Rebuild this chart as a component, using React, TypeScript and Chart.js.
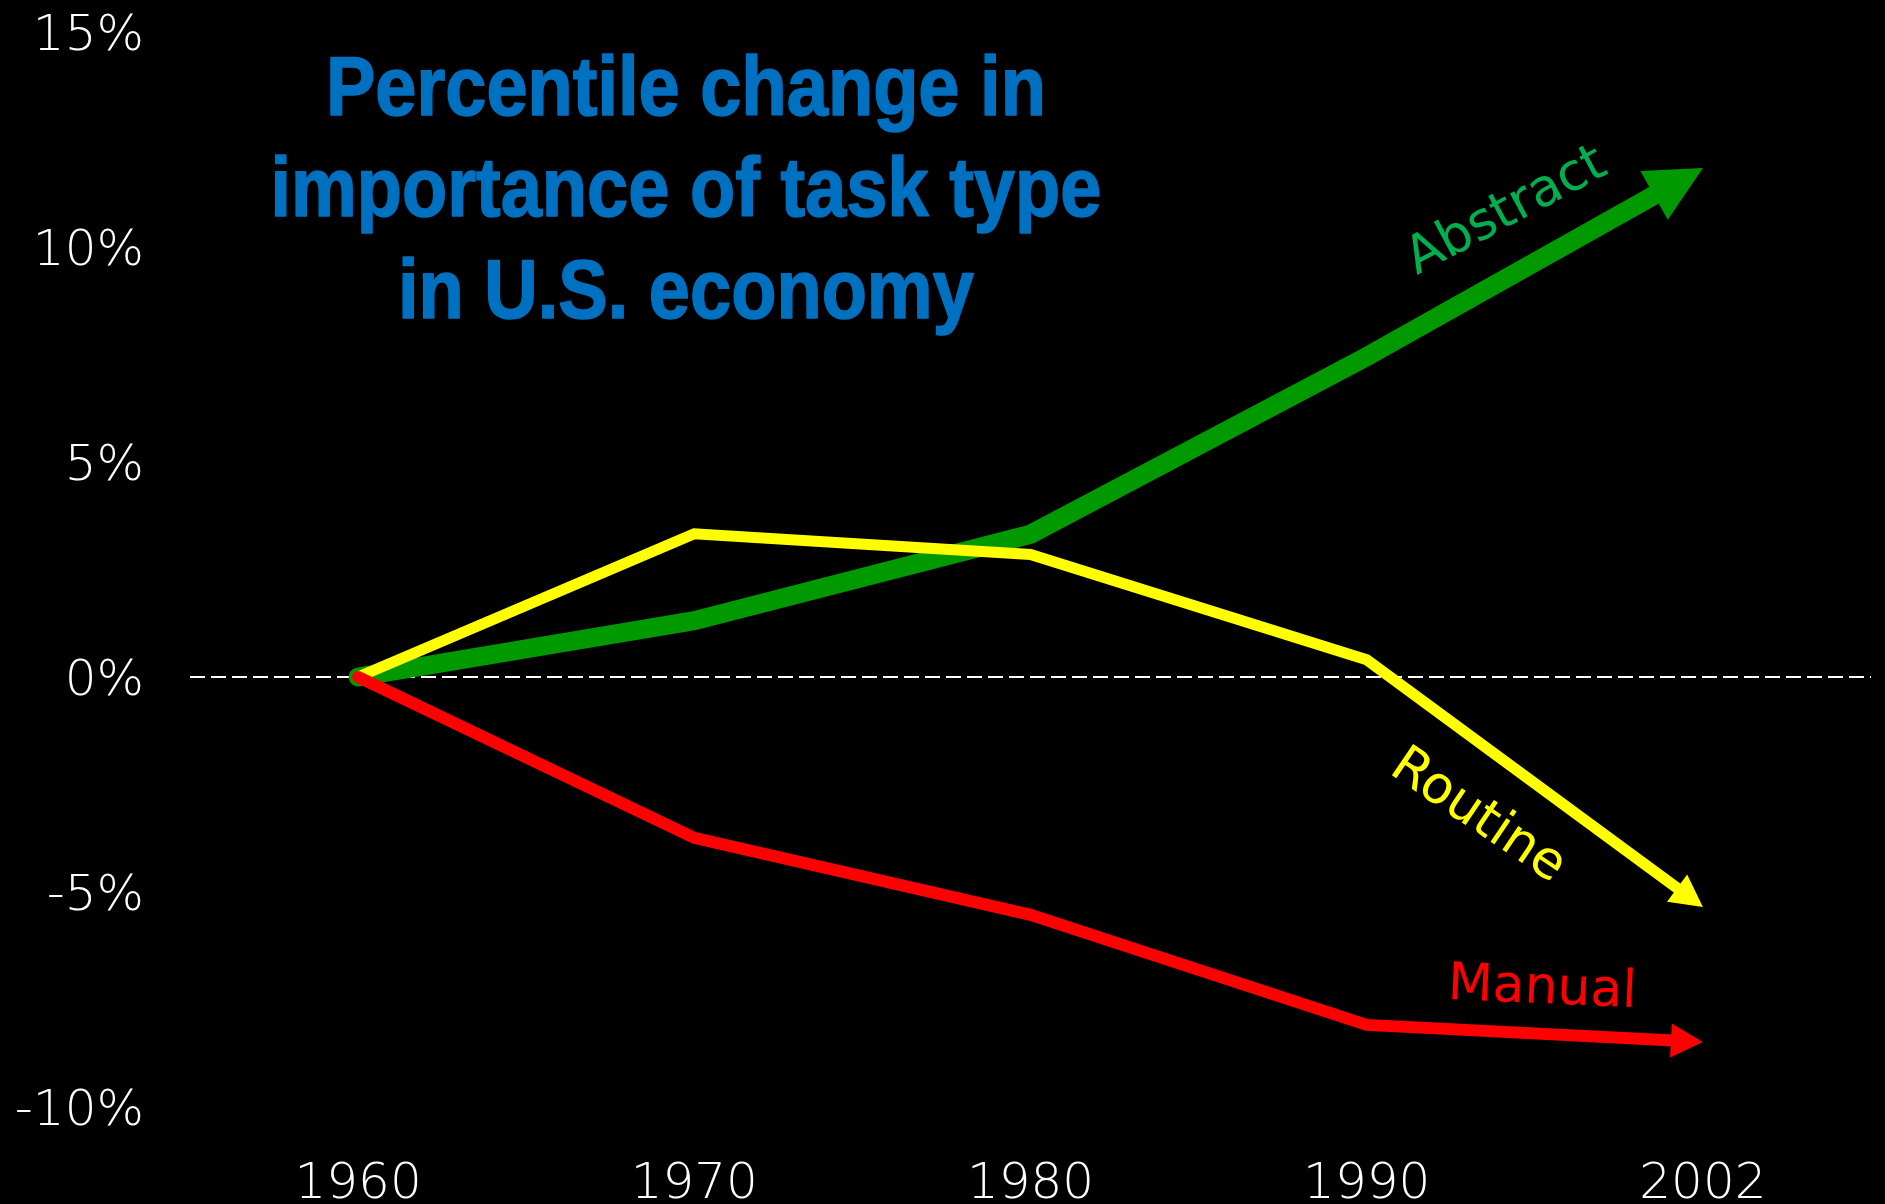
import { useEffect, useRef } from "react";
import { Chart, registerables } from "chart.js";

Chart.register(...registerables);

// ---- data ----
const YEARS = ["1960", "1970", "1980", "1990", "2002"];
const ABSTRACT = [0, 1.31, 3.32, 7.45, 11.84];
const ROUTINE = [0, 3.33, 2.85, 0.4, -5.35];
const MANUAL = [0, -3.74, -5.53, -8.09, -8.49];
const Y_MIN = -10;
const Y_MAX = 15;
const Y_STEP = 5;
const TITLE_LINES = ["Percentile change in", "importance of task type", "in U.S. economy"];

// ---- styles ----
const W = 1885;
const H = 1204;
const TICK_FONT = { family: '"DejaVu Sans", Verdana, sans-serif', size: 50, weight: "200" as any };

const ARROWS: Record<string, { len: number; half: number; color: string }> = {
  Abstract: { len: 56, half: 28, color: "#009900" },
  Routine: { len: 32, half: 17, color: "#ffff00" },
  Manual: { len: 32, half: 17, color: "#ff0000" },
};

// label anchors in (category index, value) space
const LABELS = [
  { text: "Abstract", idx: 3.417, val: 10.81, rot: -28, color: "#00b050", size: 52 },
  { text: "Routine", idx: 3.33, val: -3.25, rot: 34, color: "#ffff00", size: 52 },
  { text: "Manual", idx: 3.522, val: -7.27, rot: 2.5, color: "#ff0000", size: 52 },
];

const bgPlugin = {
  id: "bg",
  beforeDraw(chart: any) {
    const ctx = chart.ctx;
    ctx.save();
    ctx.fillStyle = "#000";
    ctx.fillRect(0, 0, chart.width, chart.height);
    ctx.restore();
  },
};

const zeroLinePlugin = {
  id: "zeroLine",
  beforeDatasetsDraw(chart: any) {
    const { ctx, chartArea, scales } = chart;
    const y = scales.y.getPixelForValue(0);
    ctx.save();
    ctx.strokeStyle = "#ffffff";
    ctx.lineWidth = 2;
    ctx.setLineDash([15, 6]);
    ctx.beginPath();
    ctx.moveTo(chartArea.left, y);
    ctx.lineTo(chartArea.right, y);
    ctx.stroke();
    ctx.restore();
  },
};

function headGeom(meta: any, spec: { len: number; half: number }) {
  const pts = meta.data;
  const n = pts.length;
  const a = pts[n - 2];
  const b = pts[n - 1];
  const dx = b.x - a.x;
  const dy = b.y - a.y;
  const L = Math.hypot(dx, dy) || 1;
  const ux = dx / L;
  const uy = dy / L;
  const px = -uy;
  const py = ux;
  const bx = b.x - ux * spec.len;
  const by = b.y - uy * spec.len;
  return { tx: b.x, ty: b.y, bx, by, ux, uy, px, py };
}

const arrowPlugin = {
  id: "arrows",
  beforeDatasetDraw(chart: any, args: any) {
    const ds = chart.data.datasets[args.index];
    const spec = ARROWS[ds.label];
    if (!spec) return;
    const g = headGeom(args.meta, spec);
    const ctx = chart.ctx;
    ctx.save();
    ctx.beginPath();
    ctx.rect(0, 0, chart.width, chart.height);
    const Wd = 40;
    const sx = g.bx + g.ux * 4;
    const sy = g.by + g.uy * 4;
    const ex = g.tx + g.ux * 30;
    const ey = g.ty + g.uy * 30;
    ctx.moveTo(sx + g.px * Wd, sy + g.py * Wd);
    ctx.lineTo(ex + g.px * Wd, ey + g.py * Wd);
    ctx.lineTo(ex - g.px * Wd, ey - g.py * Wd);
    ctx.lineTo(sx - g.px * Wd, sy - g.py * Wd);
    ctx.closePath();
    ctx.clip("evenodd");
  },
  afterDatasetDraw(chart: any, args: any) {
    const ds = chart.data.datasets[args.index];
    const spec = ARROWS[ds.label];
    if (!spec) return;
    const ctx = chart.ctx;
    ctx.restore();
    const g = headGeom(args.meta, spec);
    ctx.save();
    ctx.fillStyle = spec.color;
    ctx.beginPath();
    ctx.moveTo(g.tx, g.ty);
    ctx.lineTo(g.bx + g.px * spec.half, g.by + g.py * spec.half);
    ctx.lineTo(g.bx - g.px * spec.half, g.by - g.py * spec.half);
    ctx.closePath();
    ctx.fill();
    ctx.restore();
  },
};

const textPlugin = {
  id: "texts",
  afterDraw(chart: any) {
    const { ctx, scales } = chart;
    const xs = scales.x;
    const ys = scales.y;
    const x0 = xs.getPixelForValue(0);
    const step = xs.getPixelForValue(1) - x0;
    const px = (idx: number) => x0 + idx * step;

    // title
    ctx.save();
    ctx.fillStyle = "#0070c0";
    ctx.strokeStyle = "#0070c0";
    ctx.lineWidth = 1.6;
    ctx.lineJoin = "round";
    ctx.font = 'bold 84px "Liberation Sans Narrow", "Liberation Sans", Arial, sans-serif';
    ctx.textAlign = "center";
    ctx.textBaseline = "alphabetic";
    const w0 = ctx.measureText(TITLE_LINES[0]).width || 1;
    const sxScale = 720 / w0;
    const baseVals = [13.07, 10.71, 8.35];
    TITLE_LINES.forEach((t, i) => {
      ctx.save();
      ctx.translate(px(0.975), ys.getPixelForValue(baseVals[i]));
      ctx.scale(sxScale, 1);
      ctx.fillText(t, 0, 0);
      ctx.strokeText(t, 0, 0);
      ctx.restore();
    });
    ctx.restore();

    // series labels
    LABELS.forEach((l) => {
      ctx.save();
      ctx.fillStyle = l.color;
      ctx.font = `${l.size}px "DejaVu Sans", Verdana, sans-serif`;
      ctx.textAlign = "center";
      ctx.textBaseline = "middle";
      ctx.translate(px(l.idx), ys.getPixelForValue(l.val));
      ctx.rotate((l.rot * Math.PI) / 180);
      ctx.fillText(l.text, 0, 0);
      ctx.restore();
    });
  },
};

export default function App() {
  const ref = useRef<HTMLCanvasElement | null>(null);

  useEffect(() => {
    if (!ref.current) return;
    const chart = new Chart(ref.current, {
      type: "line",
      data: {
        labels: YEARS,
        datasets: [
          {
            label: "Manual",
            data: MANUAL,
            borderColor: "#ff0000",
            backgroundColor: "#ff0000",
            borderWidth: 12,
            borderCapStyle: "round",
            pointRadius: 0,
            tension: 0,
            fill: false,
            order: 1,
          },
          {
            label: "Routine",
            data: ROUTINE,
            borderColor: "#ffff00",
            backgroundColor: "#ffff00",
            borderWidth: 11,
            borderCapStyle: "butt",
            pointRadius: 0,
            tension: 0,
            fill: false,
            order: 2,
          },
          {
            label: "Abstract",
            data: ABSTRACT,
            borderColor: "#009900",
            backgroundColor: "#009900",
            borderWidth: 19,
            borderCapStyle: "round",
            pointRadius: 0,
            tension: 0,
            fill: false,
            order: 3,
          },
        ],
      },
      options: {
        animation: false,
        responsive: false,
        devicePixelRatio: 1,
        layout: { autoPadding: false, padding: { top: 32, right: 14, left: 0, bottom: 0 } },
        plugins: {
          legend: { display: false },
          title: { display: false },
          tooltip: { enabled: false },
        },
        scales: {
          x: {
            type: "category",
            offset: true,
            grid: { display: false, drawTicks: false },
            border: { display: false },
            ticks: {
              color: "#ffffff",
              font: TICK_FONT,
              padding: 48,
              maxRotation: 0,
              autoSkip: false,
            },
            afterFit: (s: any) => {
              s.height = 97;
              s.paddingLeft = 0;
              s.paddingRight = 0;
            },
          },
          y: {
            type: "linear",
            min: Y_MIN,
            max: Y_MAX,
            grid: { display: false, drawTicks: false },
            border: { display: false },
            ticks: {
              stepSize: Y_STEP,
              color: "#ffffff",
              font: TICK_FONT,
              padding: 46,
              labelOffset: 5,
              callback: (v: any) => `${v}%`,
            },
            afterFit: (s: any) => {
              s.width = 190;
              s.paddingTop = 0;
              s.paddingBottom = 0;
            },
          },
        },
      } as any,
      plugins: [bgPlugin, zeroLinePlugin, arrowPlugin, textPlugin],
    });
    return () => chart.destroy();
  }, []);

  return (
    <div style={{ position: "fixed", left: 0, top: 0, width: W, height: H, background: "#000" }}>
      <canvas ref={ref} width={W} height={H} style={{ display: "block", width: W, height: H }} />
    </div>
  );
}
